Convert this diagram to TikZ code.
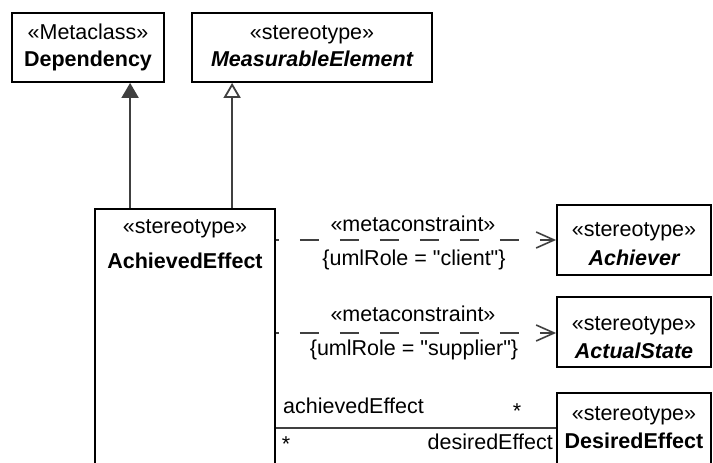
\documentclass[tikz,border=0pt]{standalone}
\usepackage{fontspec}
\setmainfont{Liberation Sans}[Ligatures=TeXOff]
\usetikzlibrary{arrows.meta}
\begin{document}
\begin{tikzpicture}[x=1pt,y=-1pt,
  box/.style={draw=black, line width=1.8pt, inner sep=0, fill=white},
  lbl/.style={inner sep=0, anchor=base, font=\fontsize{21.5}{26}\selectfont},
  gen/.style={draw=black!75, line width=1.8pt},
  dsh/.style={draw=black!75, line width=1.6pt, dash pattern=on 19pt off 21pt, dash phase=16pt}]
\clip (0,0) rectangle (713,463);
\fill[white] (0,0) rectangle (713,463);
% boxes
\node[box, minimum width=152, minimum height=69] (dep) at (88,47.5) {};
\node[box, minimum width=240, minimum height=69] (meas) at (312,47.5) {};
\node[box, minimum width=180, minimum height=311] (ach) at (185,364.5) {};
\node[box, minimum width=154, minimum height=70] (achv) at (634,240) {};
\node[box, minimum width=154, minimum height=70] (act) at (634,332) {};
\node[box, minimum width=154, minimum height=100] (des) at (634,443) {};
% texts
\node[lbl] (t1) at (88,39) {«Metaclass»};
\node[lbl] (t2) at (88,66) {\bfseries Dependency};
\node[lbl] (t3) at (312,39) {«stereotype»};
\node[lbl] (t4) at (312,66) {\bfseries\itshape MeasurableElement};
\node[lbl] (t5) at (185,233) {«stereotype»};
\node[lbl] (t6) at (185,268) {\bfseries AchievedEffect};
\node[lbl] (t7) at (634,236) {«stereotype»};
\node[lbl] (t8) at (634,265) {\bfseries\itshape Achiever};
\node[lbl] (t9) at (634,330) {«stereotype»};
\node[lbl] (t10) at (634,358) {\bfseries\itshape ActualState};
\node[lbl] (t11) at (634,420) {«stereotype»};
\node[lbl] (t12) at (634,448) {\bfseries DesiredEffect};
\node[lbl] (m1) at (413,231) {«metaconstraint»};
\node[lbl] (c1) at (414,265) {\{umlRole = "client"\}};
\node[lbl] (m2) at (413,321) {«metaconstraint»};
\node[lbl] (c2) at (414,355) {\{umlRole = "supplier"\}};
\node[lbl, anchor=base west] (r1) at (283,413) {achievedEffect};
\node[lbl] (s1) at (517,418) {*};
\node[lbl] (s2) at (286,451) {*};
\node[lbl, anchor=base east] (r2) at (553,449) {desiredEffect};
% connectors
\draw[gen, -{Triangle[length=15pt,width=17pt]}] ([xshift=36pt]ach.north west) -- ([xshift=36pt]ach.north west |- dep.south);
\draw[gen, -{Triangle[open,length=15pt,width=17pt,fill=white]}] ([xshift=138pt]ach.north west) -- ([xshift=138pt]ach.north west |- meas.south);
\draw[dsh, -{Straight Barb[length=18pt,width=16pt]}] (ach.east |- achv.west) -- (achv.west);
\draw[dsh, -{Straight Barb[length=18pt,width=16pt]}] ([yshift=-1pt]ach.east |- act.west) -- ([yshift=-1pt]act.west);
\coordinate (as) at (0,428);
\draw[gen] (ach.east |- as) -- (des.west |- as);
\end{tikzpicture}
\end{document}
